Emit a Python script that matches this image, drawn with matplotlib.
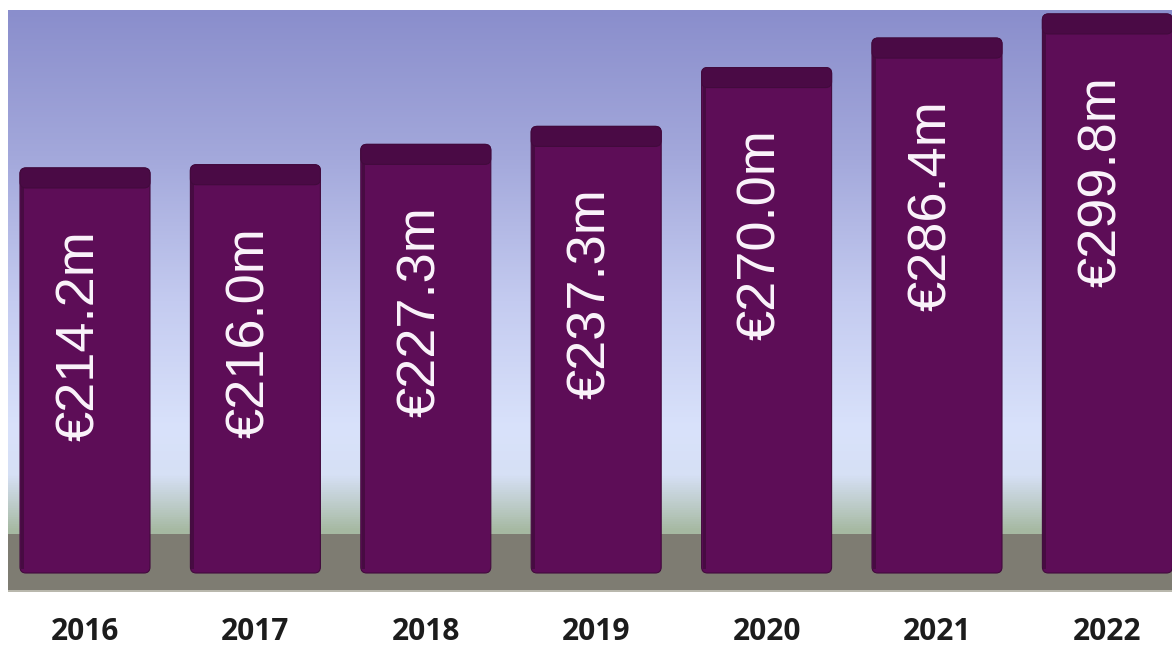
import numpy as np
import matplotlib
matplotlib.use("Agg")
import matplotlib.pyplot as plt
from matplotlib.colors import LinearSegmentedColormap
from matplotlib.patches import FancyBboxPatch

years = ["2016", "2017", "2018", "2019", "2020", "2021", "2022"]
values = [214.2, 216.0, 227.3, 237.3, 270.0, 286.4, 299.8]
labels = ["€214.2m", "€216.0m", "€227.3m", "€237.3m", "€270.0m", "€286.4m", "€299.8m"]

W, H = 1172, 646
fig = plt.figure(figsize=(W / 100, H / 100), dpi=100)
fig.patch.set_facecolor("white")

# chart area in pixels
left_px, right_px, top_px, bottom_px = 8, 1172, 10, 592
zero_px = 553.3
ax = fig.add_axes([left_px / W, (H - bottom_px) / H,
                   (right_px - left_px) / W, (bottom_px - top_px) / H])
px_per_unit = 1.799
ymin = -(bottom_px - zero_px) / px_per_unit
ymax = (zero_px - top_px) / px_per_unit
spacing = 170.4
xmin = -(85 - left_px) / spacing
xmax = xmin + (right_px - left_px) / spacing
ax.set_xlim(xmin, xmax)
ax.set_ylim(ymin, ymax)
ax.axis("off")

def py(p):
    """pixel row -> data y"""
    return (zero_px - p) / px_per_unit

# background gradient (top -> bottom)
stops = [(0.0, "#8a8ecc"), (0.25, "#a3a8db"), (0.5, "#c4cbf0"),
         (0.72, "#d9e2fb"), (0.80, "#d6e0f5"), (0.86, "#b9c9c2"),
         (0.895, "#a6b9a2"), (1.0, "#a6b9a2")]
cmap = LinearSegmentedColormap.from_list("bg", stops)
grad = np.linspace(0, 1, 512).reshape(-1, 1)
ax.imshow(grad, cmap=cmap, extent=[xmin, xmax, ymin, ymax], aspect="auto",
          origin="upper", zorder=0)

# floor band
ax.axhspan(ymin, py(534), color="#7e7c72", zorder=1, lw=0)
ax.axhspan(ymin, py(589.5), color="#b9b8ad", zorder=1, lw=0)

bar_w = 130 / spacing
bar_bottom = py(573)
cap_h = 20 / px_per_unit
x = np.arange(len(values))
masp = spacing / px_per_unit

for xi, v, lab in zip(x, values, labels):
    body = FancyBboxPatch((xi - bar_w / 2, bar_bottom), bar_w, v - bar_bottom,
                          boxstyle="round,pad=0,rounding_size=0.035",
                          mutation_aspect=masp,
                          fc="#5d0d57", ec="#420a3d", lw=0.8, zorder=2)
    ax.add_patch(body)
    ax.bar(xi - bar_w / 2 + 0.006, v - bar_bottom - 4, width=0.018, bottom=bar_bottom + 2,
           color="#470b42", align="edge", zorder=3, lw=0)
    cap = FancyBboxPatch((xi - bar_w / 2, v - cap_h), bar_w, cap_h,
                         boxstyle="round,pad=0,rounding_size=0.035",
                         mutation_aspect=masp,
                         fc="#4a0a45", ec="#420a3d", lw=0.8, zorder=4)
    ax.add_patch(cap)
    ax.text(xi - 0.03, v - 62 / px_per_unit, lab, rotation=90, ha="center", va="top",
            color="#fbf4fb", fontsize=39, family="Liberation Sans", zorder=5)

# year labels
for xi, yr in zip(x, years):
    xf = (left_px + (xi - xmin) * spacing) / W
    fig.text(xf, 1 - 632 / H, yr, ha="center", va="center", fontsize=21.5,
             fontweight="bold", family="Open Sans", color="#1c1c1c")

fig.savefig("out.png", dpi=100, facecolor="white")
